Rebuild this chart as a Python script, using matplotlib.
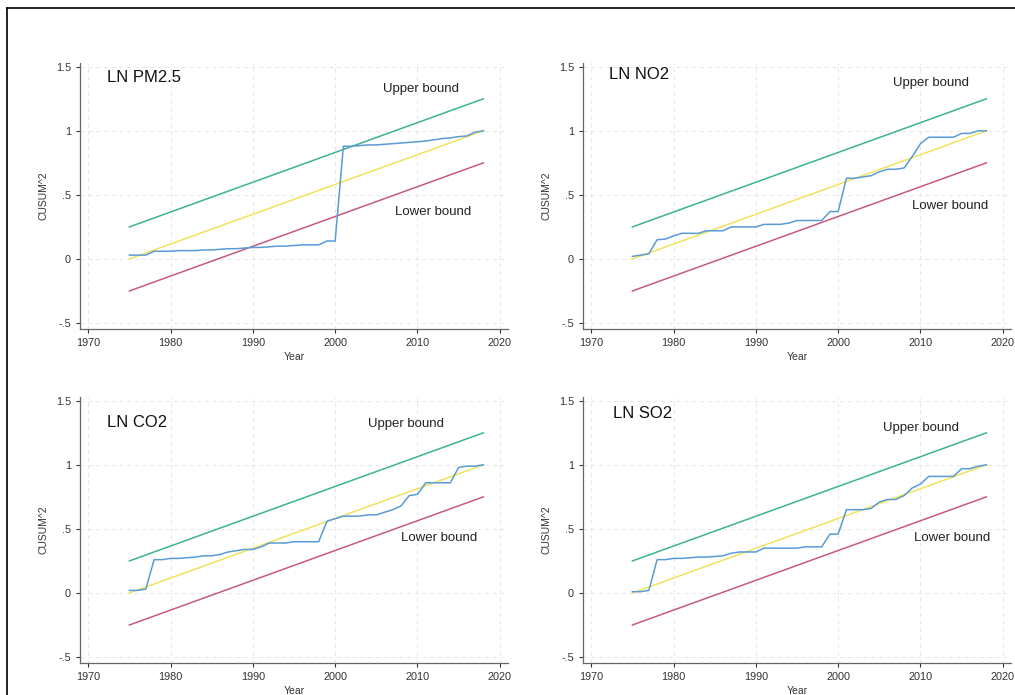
import matplotlib
matplotlib.use("Agg")
import matplotlib.pyplot as plt
from matplotlib.lines import Line2D

plt.rcParams['font.family'] = ['Liberation Sans', 'DejaVu Sans']

years = list(range(1975, 2019))

# CUSUM of squares
pm25 = [0.03, 0.03, 0.03, 0.06, 0.06, 0.06, 0.065, 0.065, 0.065, 0.07,
        0.07, 0.075, 0.08, 0.08, 0.085, 0.09, 0.09, 0.095, 0.10, 0.10,
        0.105, 0.11, 0.11, 0.11, 0.14, 0.14, 0.88, 0.88, 0.885, 0.89,
        0.89, 0.895, 0.90, 0.905, 0.91, 0.915, 0.92, 0.93, 0.94, 0.945,
        0.955, 0.96, 0.99, 1.0]
no2 = [0.02, 0.03, 0.04, 0.15, 0.155, 0.18, 0.20, 0.20, 0.20, 0.22,
       0.22, 0.22, 0.25, 0.25, 0.25, 0.25, 0.27, 0.27, 0.27, 0.28,
       0.30, 0.30, 0.30, 0.30, 0.37, 0.37, 0.63, 0.63, 0.64, 0.65,
       0.68, 0.70, 0.70, 0.71, 0.80, 0.90, 0.95, 0.95, 0.95, 0.95,
       0.98, 0.98, 1.0, 1.0]
co2 = [0.02, 0.02, 0.03, 0.26, 0.26, 0.27, 0.27, 0.275, 0.28, 0.29,
       0.29, 0.30, 0.32, 0.33, 0.34, 0.34, 0.36, 0.39, 0.39, 0.39,
       0.40, 0.40, 0.40, 0.40, 0.56, 0.58, 0.60, 0.60, 0.60, 0.61,
       0.61, 0.63, 0.65, 0.68, 0.76, 0.77, 0.86, 0.86, 0.86, 0.86,
       0.98, 0.99, 0.99, 1.0]
so2 = [0.01, 0.01, 0.02, 0.26, 0.26, 0.27, 0.27, 0.275, 0.28, 0.28,
       0.285, 0.29, 0.31, 0.32, 0.32, 0.32, 0.35, 0.35, 0.35, 0.35,
       0.35, 0.36, 0.36, 0.36, 0.46, 0.46, 0.65, 0.65, 0.65, 0.66,
       0.71, 0.73, 0.73, 0.76, 0.82, 0.85, 0.91, 0.91, 0.91, 0.91,
       0.97, 0.97, 0.99, 1.0]

bound_years = [1975, 2018]
upper = [0.25, 1.25]
expected = [0.0, 1.0]
lower = [-0.25, 0.75]

titles = ['LN PM2.5', 'LN NO2', 'LN CO2', 'LN SO2']
series = [pm25, no2, co2, so2]
# label anchors (x, y) in data units
upper_pos = [(2005.8, 1.33), (2006.6, 1.375), (2004.0, 1.32), (2005.4, 1.29)]
lower_pos = [(2007.3, 0.37), (2009.0, 0.41), (2008.0, 0.43), (2009.2, 0.43)]
title_pos = [(1972.3, 1.42), (1972.2, 1.44), (1972.3, 1.33), (1972.7, 1.40)]

c_blue = '#5a9bd5'
c_green = '#3db38e'
c_yellow = '#f1e35e'
c_red = '#c65a7e'

fig = plt.figure(figsize=(10.15, 6.95), dpi=100)
boxes = [(0.0788, 0.5266), (0.5744, 0.5266), (0.0788, 0.046), (0.5744, 0.046)]

for i in range(4):
    l, b = boxes[i]
    ax = fig.add_axes([l, b, 0.4217, 0.383])
    ax.plot(bound_years, upper, color=c_green, lw=1.1)
    ax.plot(bound_years, expected, color=c_yellow, lw=1.1)
    ax.plot(bound_years, lower, color=c_red, lw=1.1)
    ax.plot(years, series[i], color=c_blue, lw=1.1)

    ax.set_xlim(1969, 2021)
    ax.set_ylim(-0.547, 1.531)
    ax.set_xticks([1970, 1980, 1990, 2000, 2010, 2020])
    ax.set_yticks([-0.5, 0, 0.5, 1, 1.5])
    ax.set_yticklabels(['-.5', '0', '.5', '1', '1.5'])
    ax.tick_params(labelsize=7.8, colors='#333333', length=3, width=0.8)
    ax.grid(True, ls=(0, (4, 4)), color='#e6e6e6', lw=0.7)
    ax.set_axisbelow(True)
    for s in ['top', 'right']:
        ax.spines[s].set_visible(False)
    for s in ['left', 'bottom']:
        ax.spines[s].set_color('#666666')
        ax.spines[s].set_linewidth(0.9)

    ax.set_ylabel('CUSUM^2', fontsize=7.5, color='#333333', labelpad=5)
    ax.set_xlabel('Year', fontsize=7.5, color='#333333', labelpad=3)

    ax.text(title_pos[i][0], title_pos[i][1], titles[i], fontsize=12,
            va='center', ha='left', color='#111111')
    ax.text(upper_pos[i][0], upper_pos[i][1], 'Upper bound', fontsize=9.5,
            va='center', ha='left', color='#222222')
    ax.text(lower_pos[i][0], lower_pos[i][1], 'Lower bound', fontsize=9.5,
            va='center', ha='left', color='#222222')

# frame lines at the top and left edge of the screenshot
fig.add_artist(Line2D([7 / 1015, 1], [1 - 8 / 695, 1 - 8 / 695], color='black', lw=1.2))
fig.add_artist(Line2D([7 / 1015, 7 / 1015], [0, 1 - 8 / 695], color='black', lw=1.2))

fig.savefig('out.png', dpi=100)
